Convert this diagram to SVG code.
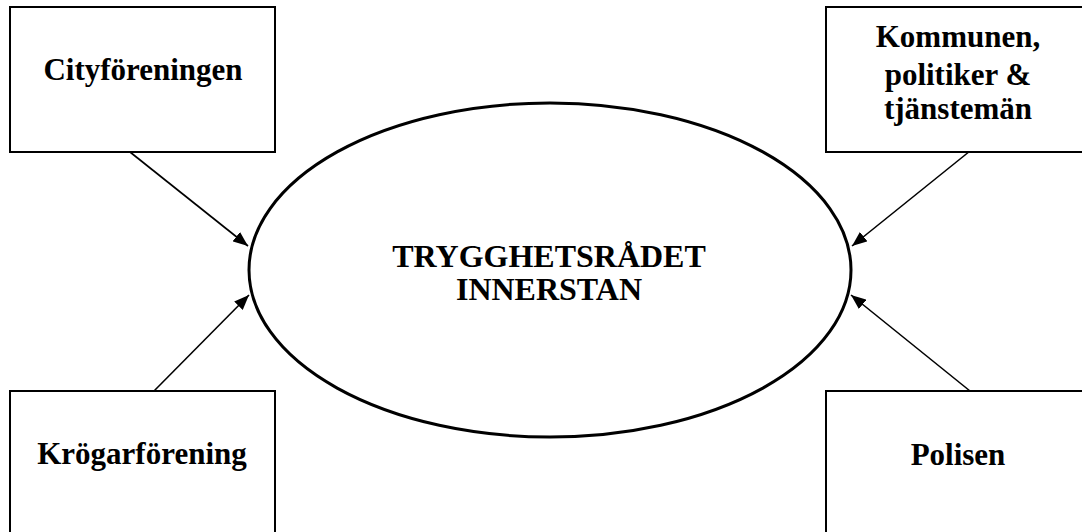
<svg xmlns="http://www.w3.org/2000/svg" width="1082" height="532" viewBox="0 0 1082 532">
<style>
.box{fill:#fff;stroke:#000;stroke-width:2}
.ell{fill:#fff;stroke:#000;stroke-width:3}
.lbl{font-family:"Liberation Serif","Times New Roman",serif;font-weight:bold;font-size:31px;fill:#000;text-anchor:middle}
.ctr{font-family:"Liberation Serif","Times New Roman",serif;font-weight:bold;font-size:32px;fill:#000;text-anchor:middle}
.con{stroke:#000;stroke-width:1.6;fill:none;marker-end:url(#ah)}
</style>
<defs>
<marker id="ah" markerUnits="userSpaceOnUse" markerWidth="16" markerHeight="12" refX="15" refY="6" orient="auto">
<path d="M0,0 L15,6 L0,12 z" fill="#000"/>
</marker>
</defs>
<rect width="1082" height="532" fill="#fff"/>
<g id="connectors">
<line class="con" x1="130" y1="152" x2="248" y2="246"/>
<line class="con" x1="970" y1="151" x2="852" y2="246"/>
<line class="con" x1="154" y1="391" x2="249" y2="295"/>
<line class="con" x1="970" y1="391" x2="851" y2="295"/>
</g>
<g id="trygghetsradet">
<ellipse class="ell" cx="550" cy="270" rx="301" ry="167"/>
<text class="ctr" x="549" y="267">TRYGGHETSRÅDET</text>
<text class="ctr" x="549" y="300">INNERSTAN</text>
</g>
<g id="cityforeningen">
<rect class="box" x="10" y="7" width="265" height="145"/>
<text class="lbl" x="143" y="80">Cityföreningen</text>
</g>
<g id="kommunen">
<rect class="box" x="826" y="7" width="265" height="145"/>
<text class="lbl" x="958" y="47">Kommunen,</text>
<text class="lbl" x="958" y="85">politiker &amp;</text>
<text class="lbl" x="958" y="119">tjänstemän</text>
</g>
<g id="krogarforening">
<rect class="box" x="10" y="391" width="265" height="145"/>
<text class="lbl" x="142" y="464">Krögarförening</text>
</g>
<g id="polisen">
<rect class="box" x="826" y="391" width="265" height="145"/>
<text class="lbl" x="958" y="465">Polisen</text>
</g>
</svg>
